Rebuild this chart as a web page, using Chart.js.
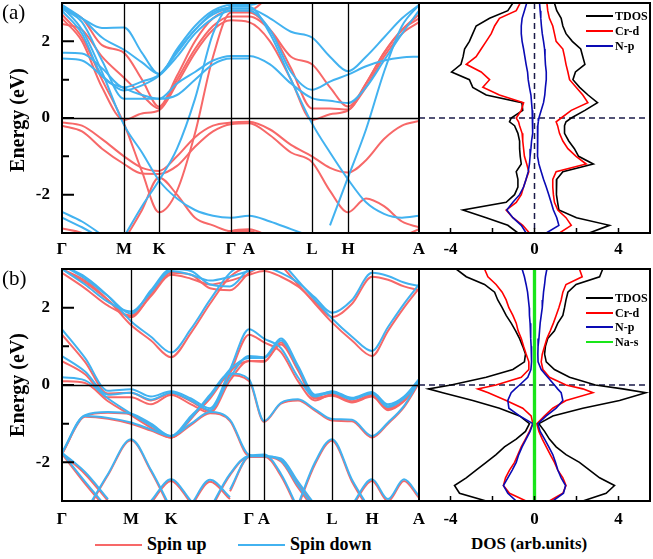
<!DOCTYPE html>
<html>
<head>
<meta charset="utf-8">
<script src="https://cdn.jsdelivr.net/npm/chart.js@4.4.1/dist/chart.umd.min.js"></script>
<style>
  body { margin: 0; background: #fff; }
  #page { position: relative; width: 653px; height: 559px; overflow: hidden; background: #fff;
          font-family: "Liberation Serif", "Times New Roman", serif; color: #000; }
  .box { position: absolute; }
  .txt { position: absolute; white-space: nowrap; }
  .b { font-weight: bold; }
  .ylab { position: absolute; font-weight: bold; font-size: 20px; transform: translate(-50%, -50%) rotate(-90deg); white-space: nowrap; }
  .leg { position: absolute; font-weight: bold; font-size: 12px; white-space: nowrap; width: 70px; }
  .leg span.l { position: absolute; left: 0; width: 27px; height: 0; border-top: 2px solid; }
  .leg span.t { position: absolute; left: 29px; transform: translateY(-50%); }
</style>
</head>
<body>
<div id="page">
  <div class="box" style="left:0;top:0;width:433px;height:260px"><canvas id="bandA"></canvas></div>
  <div class="box" style="left:418px;top:0;width:234px;height:260px"><canvas id="dosA"></canvas></div>
  <div class="box" style="left:0;top:266px;width:433px;height:262px"><canvas id="bandB"></canvas></div>
  <div class="box" style="left:418px;top:266px;width:234px;height:262px"><canvas id="dosB"></canvas></div>

  <div class="txt" style="left:2px;top:0px;font-size:21px">(a)</div>
  <div class="txt" style="left:2px;top:266px;font-size:21px">(b)</div>
  <div class="ylab" style="left:17px;top:120px">Energy (eV)</div>
  <div class="ylab" style="left:17px;top:385px">Energy (eV)</div>

  <div class="leg" id="legA" style="left:586px;top:0px"></div>
  <div class="leg" id="legB" style="left:586px;top:282px"></div>

  <div class="txt" style="left:95px;top:544px;width:47px;border-top:2px solid rgb(247,104,104)"></div>
  <div class="txt b" style="left:147px;top:534px;font-size:18px">Spin up</div>
  <div class="txt" style="left:238px;top:544px;width:47px;border-top:2px solid rgb(66,178,240)"></div>
  <div class="txt b" style="left:290px;top:534px;font-size:18px">Spin down</div>
  <div class="txt b" style="left:471px;top:534px;font-size:17px">DOS (arb.units)</div>
</div>
<script>
// ── BAND STRUCTURE DATA ─────────────────────────────────────────────────────
// k positions along the path (arbitrary units), one value per band sample
const K_A = [0,20,40,62,80,97,115,133,151,169,187,208,229,250,268,286,304,322,340,357];
const SYM_A = [0,62,97,169,187,250,286,357];
const K_B = [0,23,46,69,89,109,129,148,168,187,202,219,236,253,270,290,310,326,342,357];
const SYM_B = [0,69,109,187,202,270,310,357];
const SYM_LABELS = ['Γ','M','K','Γ','A','L','H','A'];
const E_TICKS = [-2, 0, 2];
const E_MINOR = [-1, 1];

// panel (a), spin up
const UP_A = [
  [-0.12,-0.2,-0.55,-1.0,-1.3,-1.38,-1.0,-0.5,-0.2,-0.12,-0.1,-0.3,-0.7,-1.0,-1.3,-1.42,-1.1,-0.55,-0.2,-0.08],
  [-0.2,-0.35,-0.8,-1.2,-1.45,-1.46,-1.25,-0.75,-0.35,-0.16,-0.14,-0.45,-0.9,-1.15,-1.9,-2.46,-2.1,-2.3,-2.7,-2.85],
  [2.7,2.1,1.0,-0.15,-1.4,-2.46,-1.9,-0.4,1.6,2.75,2.75,2.3,1.3,0.25,0.25,0.22,0.9,1.7,2.3,2.7],
  [2.6,2.0,0.8,-0.05,0.12,0.2,0.9,1.7,2.3,2.55,2.5,2.0,1.0,-0.05,0.1,0.2,0.8,1.6,2.2,2.5],
  [2.45,2.3,1.6,1.05,0.6,0.25,1.0,1.8,2.4,2.65,2.65,2.3,1.6,1.4,0.8,0.3,0.9,1.7,2.3,2.6],
  [2.85,2.6,1.9,1.7,1.0,0.3,1.1,2.0,2.6,2.8,2.8,3.2,null,null,null,null,null,null,null,null],
  [-2.88,-3.0,-3.3,null,null,null,null,null,-3.2,-2.95,-2.9,-3.1,-3.3,null,null,null,null,null,-3.1,-2.9],
  [null,null,null,-3.2,-2.4,-1.55,-2.0,-2.6,-2.8,-2.95,-2.95,-3.2,null,null,null,null,null,null,null,null],
];
// panel (a), spin down
const DN_A = [
  [2.9,2.3,1.2,-0.18,-0.9,-1.63,-2.1,-2.4,-2.55,-2.6,-2.55,-2.7,-2.9,-3.1,null,null,null,null,null,null],
  [null,null,null,-3.1,-2.3,-1.63,-0.8,0.5,2.2,2.9,2.9,2.2,1.0,-0.14,-0.9,-1.6,-2.2,-2.5,-2.6,-2.55],
  [-2.45,-2.7,-3.05,null,null,null,null,null,null,null,null,null,null,null,-2.8,-1.55,-0.3,1.2,2.4,2.95],
  [1.7,1.68,1.3,0.8,0.95,1.13,1.7,2.3,2.7,2.85,2.85,2.6,2.25,2.1,1.6,1.22,1.6,2.1,2.6,2.95],
  [1.55,1.5,1.1,0.72,0.85,1.1,1.6,2.2,2.6,2.8,2.8,2.3,1.2,0.74,0.95,1.13,1.35,1.5,1.58,1.6],
  [2.85,2.5,1.5,0.5,0.5,0.5,0.9,1.2,1.5,1.62,1.62,1.4,0.9,0.52,0.45,0.39,0.8,1.5,2.2,2.8],
  [2.9,2.6,2.35,2.36,1.7,1.15,1.8,2.4,2.8,2.95,2.95,3.1,null,null,null,null,null,null,null,null],
  [2.8,2.2,1.1,0.78,0.6,0.5,0.6,1.0,1.4,1.55,1.55,null,null,null,null,null,null,null,null,null],
  [2.95,2.6,2.1,1.78,1.45,1.15,1.75,2.3,2.75,2.9,null,null,null,null,null,null,null,null,null,null],
  [-2.6,-2.85,-3.15,null,null,null,null,null,null,null,null,null,null,null,null,null,null,null,null,null],
];
// panel (b), spin up
const UP_B = [
  [1.3,0.6,-0.22,-0.2,-0.4,-0.22,-0.42,-0.68,0.3,1.3,1.1,0.85,0.1,-0.4,-0.24,-0.42,-0.26,-0.6,-0.4,0.1],
  [0.62,0.28,-0.32,-0.32,-0.5,-0.26,-0.5,-0.72,0.12,0.62,0.6,1.1,0.4,-0.33,-0.26,-0.43,-0.28,-0.63,-0.4,0.06],
  [0.1,0.05,-0.42,-0.78,-1.1,-1.36,-0.85,-0.35,0.35,0.62,0.62,1.05,0.38,-0.35,-0.28,-0.45,-0.3,-0.65,-0.42,0.05],
  [-1.78,-0.82,-0.87,-1.0,-1.18,-1.36,-1.03,-0.73,-0.93,-1.84,-1.86,-1.92,-2.55,-3.15,null,null,null,null,null,null],
  [-1.78,-0.8,-0.72,-0.76,-1.03,-1.36,-0.88,-0.28,0.25,0.1,-0.95,-0.48,-0.4,-0.66,-0.92,-0.94,-1.36,-1.0,-0.57,0.05],
  [-1.78,-2.3,-3.0,null,null,null,null,null,null,null,null,null,null,null,null,null,null,null,null,null],
  [-1.78,-2.55,-3.25,null,null,null,null,null,null,null,null,null,null,null,null,null,null,null,null,null],
  [null,-3.35,-2.33,-1.43,-2.23,-3.25,null,null,null,null,null,null,null,null,null,null,null,null,null,null],
  [null,null,null,null,-3.05,-2.48,-3.05,null,null,null,null,null,null,null,null,null,null,null,null,null],
  [null,null,null,null,null,null,-3.15,-2.5,-2.95,null,null,null,null,null,null,null,null,null,null,null],
  [null,null,null,null,null,null,null,-3.25,-2.33,-1.86,-1.86,-1.98,-2.65,-3.25,null,null,null,null,null,null],
  [null,null,null,null,null,null,null,null,null,null,null,null,-3.15,-2.05,-1.44,-2.5,-3.35,null,null,null],
  [null,null,null,null,null,null,null,null,null,null,null,null,null,null,null,-3.15,-2.48,-3.0,-2.48,-2.92],
  [null,null,null,null,null,null,null,null,-2.75,-1.86,-1.84,-2.35,-3.25,null,null,null,null,null,null,null],
  [2.9,2.5,2.05,1.8,2.3,2.85,2.75,2.6,2.7,2.85,2.95,2.8,2.55,2.15,1.76,2.1,2.8,2.72,2.55,2.45],
  [3.0,2.65,2.2,1.75,2.35,2.9,2.85,2.5,2.45,2.9,3.1,null,null,null,null,null,null,null,null,null],
  [3.0,2.7,2.2,1.55,1.15,0.72,1.35,2.1,2.8,3.1,null,null,null,null,null,null,null,null,null,null],
  [null,null,null,null,null,null,null,null,null,null,null,3.1,2.6,2.1,1.62,1.15,0.75,1.4,2.0,2.5],
];
// panel (b), spin down
const DN_B = [
  [1.44,0.7,-0.15,-0.11,-0.3,-0.16,-0.35,-0.6,0.4,1.44,1.2,0.95,0.2,-0.3,-0.16,-0.33,-0.18,-0.5,-0.3,0.15],
  [0.75,0.35,-0.25,-0.2,-0.38,-0.2,-0.4,-0.65,0.2,0.75,0.72,1.2,0.5,-0.25,-0.18,-0.35,-0.2,-0.55,-0.32,0.12],
  [0.2,0.12,-0.35,-0.74,-1.05,-1.32,-0.8,-0.3,0.4,0.7,0.7,1.15,0.45,-0.28,-0.2,-0.37,-0.22,-0.57,-0.35,0.1],
  [-1.75,-0.8,-0.85,-0.97,-1.15,-1.32,-1.0,-0.7,-0.9,-1.8,-1.84,-1.9,-2.5,-3.1,null,null,null,null,null,null],
  [-1.75,-0.78,-0.7,-0.74,-1.0,-1.32,-0.85,-0.25,0.3,0.15,-0.93,-0.46,-0.37,-0.63,-0.88,-0.9,-1.32,-0.97,-0.54,0.1],
  [-1.75,-2.25,-2.95,null,null,null,null,null,null,null,null,null,null,null,null,null,null,null,null,null],
  [-1.75,-2.5,-3.2,null,null,null,null,null,null,null,null,null,null,null,null,null,null,null,null,null],
  [null,-3.3,-2.3,-1.4,-2.2,-3.2,null,null,null,null,null,null,null,null,null,null,null,null,null,null],
  [null,null,null,null,-3.0,-2.44,-3.0,null,null,null,null,null,null,null,null,null,null,null,null,null],
  [null,null,null,null,null,null,-3.1,-2.45,-2.9,null,null,null,null,null,null,null,null,null,null,null],
  [null,null,null,null,null,null,null,-3.2,-2.3,-1.84,-1.84,-1.95,-2.6,-3.2,null,null,null,null,null,null],
  [null,null,null,null,null,null,null,null,null,null,null,null,-3.1,-2.0,-1.4,-2.45,-3.3,null,null,null],
  [null,null,null,null,null,null,null,null,null,null,null,null,null,null,null,-3.1,-2.44,-2.95,-2.44,-2.87],
  [null,null,null,null,null,null,null,null,-2.7,-1.84,-1.8,-2.3,-3.2,null,null,null,null,null,null,null],
  [3.0,2.6,2.15,1.9,2.4,2.95,2.85,2.7,2.8,2.95,3.05,2.9,2.65,2.26,1.87,2.2,2.9,2.82,2.65,2.56],
  [3.1,2.75,2.3,1.85,2.45,3.0,2.95,2.6,2.55,3.0,3.2,null,null,null,null,null,null,null,null,null],
  [3.1,2.8,2.3,1.65,1.25,0.84,1.45,2.2,2.9,3.2,null,null,null,null,null,null,null,null,null,null],
  [null,null,null,null,null,null,null,null,null,null,null,3.2,2.7,2.2,1.72,1.25,0.88,1.5,2.1,2.6],
];

// ── DOS DATA ────────────────────────────────────────────────────────────────
const E_DOS = [3.0,2.8,2.6,2.4,2.2,2.0,1.8,1.6,1.4,1.2,1.0,0.8,0.6,0.4,0.2,0.0,-0.1,
               -0.2,-0.4,-0.6,-0.8,-1.0,-1.2,-1.4,-1.6,-1.8,-2.0,-2.2,-2.4,-2.6,-2.8,-3.0];
const DOS_TICKS = [-4, -2, 0, 2, 4];

const TDOS_UP_A = [0.95,1.06,1.27,1.35,1.5,1.8,2.2,2.3,2.4,1.95,1.83,2.15,2.55,3.0,2.4,1.75,1.5,1.43,1.43,1.63,1.9,2.1,2.8,1.35,1.06,1.03,1.06,1.1,1.16,2.0,3.57,2.6];
const TDOS_DN_A = [-1.03,-1.27,-2.14,-2.78,-2.94,-3.1,-3.33,-3.4,-3.5,-3.95,-3.1,-2.94,-2.3,-0.6,-0.56,-1.11,-1.19,-0.95,-0.79,-0.71,-0.71,-0.68,-0.63,-0.87,-0.79,-0.79,-0.95,-1.35,-3.41,-2.3,-1.27,-0.79];
const CRD_UP_A = [0.59,0.63,0.71,0.87,0.95,1.03,1.35,1.43,1.5,1.59,1.67,1.98,2.3,2.54,1.75,1.27,1.03,1.1,1.19,1.35,1.59,1.98,2.46,1.03,0.87,0.87,0.9,0.95,1.11,1.5,1.75,1.19];
const CRD_DN_A = [-0.68,-0.87,-1.67,-1.9,-2.06,-2.3,-2.54,-2.78,-3.25,-2.54,-2.14,-2.46,-1.67,-0.52,-0.63,-0.87,-0.76,-0.71,-0.59,-0.56,-0.52,-0.48,-0.37,-0.27,-0.4,-0.52,-0.63,-0.87,-1.35,-1.03,-0.56,-0.24];
const NP_UP_A = [0.24,0.27,0.3,0.33,0.37,0.43,0.48,0.5,0.52,0.56,0.56,0.52,0.49,0.43,0.32,0.21,0.18,0.16,0.14,0.14,0.14,0.16,0.21,0.32,0.43,0.56,0.68,0.79,0.9,1.06,1.16,0.56];
const NP_DN_A = [-0.37,-0.48,-0.59,-0.63,-0.63,-0.59,-0.52,-0.46,-0.4,-0.33,-0.3,-0.24,-0.17,-0.14,-0.11,-0.08,-0.08,-0.08,-0.11,-0.14,-0.17,-0.21,-0.24,-0.3,-0.4,-0.52,-0.71,-1.03,-1.32,-1.03,-0.63,-0.4];

const TDOS_UP_B = [3.25,3.1,1.98,1.59,1.5,1.43,1.35,1.11,0.95,0.63,0.52,0.48,0.56,0.95,1.67,2.9,4.2,5.3,4.05,2.3,0.87,0.21,0.48,0.71,1.03,1.5,2.14,2.62,3.1,3.81,3.41,2.3];
const TDOS_DN_B = [-3.73,-3.25,-2.38,-1.9,-1.75,-1.54,-1.35,-1.11,-0.9,-0.71,-0.56,-0.43,-0.48,-1.03,-2.3,-3.97,-5.05,-4.37,-2.94,-1.67,-0.71,-0.24,-0.43,-0.87,-1.43,-1.83,-2.3,-2.78,-3.25,-3.81,-3.57,-2.3];
const CRD_UP_B = [2.14,2.27,1.5,1.35,1.27,1.16,1.03,0.9,0.75,0.59,0.48,0.37,0.32,0.4,0.71,1.5,2.3,2.78,1.5,0.87,0.48,0.11,0.21,0.37,0.56,0.75,0.95,1.11,1.35,1.5,1.35,0.71];
const CRD_DN_B = [-2.38,-2.22,-1.83,-1.54,-1.35,-1.22,-1.03,-0.87,-0.78,-0.63,-0.52,-0.4,-0.27,-0.27,-0.63,-1.83,-2.7,-2.2,-1.35,-0.56,-0.16,-0.08,-0.24,-0.43,-0.63,-0.79,-0.95,-1.19,-1.38,-1.48,-1.19,-0.4];
const NP_UP_B = [0.59,0.52,0.48,0.43,0.4,0.37,0.32,0.27,0.24,0.21,0.17,0.16,0.17,0.32,0.63,0.95,1.1,1.27,1.35,1.03,0.56,0.16,0.27,0.48,0.68,0.87,1.0,1.11,1.27,1.48,1.38,0.87];
const NP_DN_B = [-0.59,-0.48,-0.4,-0.33,-0.29,-0.25,-0.24,-0.21,-0.19,-0.17,-0.16,-0.14,-0.14,-0.17,-0.32,-0.71,-0.92,-1.11,-1.27,-1.22,-0.71,-0.08,-0.21,-0.4,-0.59,-0.75,-0.87,-1.06,-1.27,-1.48,-1.27,-0.87];
const NAS_UP_B = [0.03,0.03,0.03,0.03,0.03,0.03,0.03,0.03,0.03,0.03,0.03,0.03,0.03,0.03,0.03,0.04,0.04,0.04,0.03,0.03,0.03,0.03,0.03,0.03,0.03,0.03,0.03,0.03,0.04,0.04,0.03,0.03];
const NAS_DN_B = [-0.03,-0.03,-0.03,-0.03,-0.03,-0.03,-0.03,-0.03,-0.03,-0.03,-0.03,-0.03,-0.03,-0.03,-0.03,-0.04,-0.04,-0.04,-0.03,-0.03,-0.03,-0.03,-0.03,-0.03,-0.03,-0.03,-0.03,-0.03,-0.04,-0.04,-0.03,-0.03];

// ── STYLE ───────────────────────────────────────────────────────────────────
const FONT = '"Liberation Serif", "Times New Roman", serif';
const RED  = 'rgb(247,104,104)';
const BLUE = 'rgb(66,178,240)';
const tickFont = { family: FONT, size: 17, weight: 'bold' };

// keep the plot box exactly where the layout puts it (no label overhang padding)
function noOverhang(s) {
  s.paddingTop = 0; s.paddingBottom = 0; s.paddingLeft = 0; s.paddingRight = 0;
}

// frame, high-symmetry lines, E=0 line and inward ticks for the band panels
const bandFrame = symK => ({
  id: 'bandFrame',
  afterDatasetsDraw(chart) {
    const { ctx, chartArea: a, scales: { x, y } } = chart;
    ctx.save();
    ctx.strokeStyle = '#000';
    ctx.lineWidth = 1.3;
    ctx.beginPath();
    symK.slice(1, -1).forEach(k => {
      const px = Math.round(x.getPixelForValue(k)) + 0.5;
      ctx.moveTo(px, a.top); ctx.lineTo(px, a.bottom);
    });
    const y0 = Math.round(y.getPixelForValue(0)) + 0.5;
    ctx.moveTo(a.left, y0); ctx.lineTo(a.right, y0);
    ctx.stroke();
    ctx.lineWidth = 2;
    ctx.beginPath();
    E_TICKS.forEach(v => { const py = y.getPixelForValue(v); ctx.moveTo(a.left, py); ctx.lineTo(a.left + 12, py); });
    E_MINOR.forEach(v => { const py = y.getPixelForValue(v); ctx.moveTo(a.left, py); ctx.lineTo(a.left + 7, py); });
    ctx.stroke();
    ctx.strokeRect(a.left, a.top, a.right - a.left, a.bottom - a.top);
    ctx.restore();
  }
});

function bandChart(id, kGrid, symK, upBands, dnBands, labelPad) {
  const datasets = [];
  const toPts = b => kGrid.map((k, i) => ({ x: k, y: b[i] }));
  dnBands.forEach(b => datasets.push({ data: toPts(b), borderColor: BLUE }));
  upBands.forEach(b => datasets.push({ data: toPts(b), borderColor: RED }));
  return new Chart(document.getElementById(id), {
    type: 'line',
    data: { datasets },
    options: {
      responsive: true, maintainAspectRatio: false, animation: false,
      layout: { padding: { top: 3, right: 14, left: 0, bottom: 0 } },
      plugins: { legend: { display: false }, tooltip: { enabled: false } },
      elements: {
        point: { radius: 0 },
        line: { borderWidth: 2, cubicInterpolationMode: 'monotone', fill: false },
      },
      scales: {
        x: {
          type: 'linear', min: 0, max: 357,
          grid: { display: false, drawTicks: false }, border: { display: false },
          afterBuildTicks: s => { s.ticks = symK.map(v => ({ value: v })); },
          afterFit: s => { s.height = 27; noOverhang(s); },
          ticks: { autoSkip: false, maxRotation: 0, padding: labelPad, color: '#000', font: tickFont,
                   callback: (v, i) => SYM_LABELS[i] },
        },
        y: {
          min: -3, max: 3,
          grid: { display: false, drawTicks: false }, border: { display: false },
          afterBuildTicks: s => { s.ticks = E_TICKS.map(v => ({ value: v })); },
          afterFit: s => { s.width = 62; noOverhang(s); },
          ticks: { padding: 12, color: '#000', font: tickFont, callback: v => String(v) },
        },
      },
    },
    plugins: [bandFrame(symK)],
  });
}

const dosFrame = {
  id: 'dosFrame',
  beforeDatasetsDraw(chart) {
    const { ctx, chartArea: a, scales: { x, y } } = chart;
    ctx.save();
    ctx.strokeStyle = '#1a1a48';
    ctx.lineWidth = 1.5;
    ctx.setLineDash([6, 4]);
    ctx.beginPath();
    const y0 = y.getPixelForValue(0);
    ctx.moveTo(a.left, y0); ctx.lineTo(a.right, y0);
    const x0 = x.getPixelForValue(0);
    ctx.moveTo(x0, a.top); ctx.lineTo(x0, a.bottom);
    ctx.stroke();
    ctx.restore();
  },
  afterDatasetsDraw(chart) {
    const { ctx, chartArea: a, scales: { x } } = chart;
    ctx.save();
    ctx.strokeStyle = '#000';
    ctx.lineWidth = 1.5;
    ctx.beginPath();
    DOS_TICKS.forEach(v => { const px = x.getPixelForValue(v); ctx.moveTo(px, a.bottom); ctx.lineTo(px, a.bottom - 5); });
    ctx.stroke();
    ctx.lineWidth = 2;
    ctx.strokeRect(a.left, a.top, a.right - a.left, a.bottom - a.top);
    ctx.restore();
  }
};

function dosChart(id, curves, labelPad) {
  const datasets = [];
  curves.forEach(c => {
    [c.up, c.dn].forEach(arr => datasets.push({
      data: E_DOS.map((e, i) => ({ x: arr[i], y: e })),
      borderColor: c.color, showLine: true, borderWidth: c.width || 1.6,
      pointRadius: 0, tension: 0,
    }));
  });
  return new Chart(document.getElementById(id), {
    type: 'scatter',
    data: { datasets },
    options: {
      responsive: true, maintainAspectRatio: false, animation: false,
      layout: { padding: { top: 3, right: 2, left: 1, bottom: 0 } },
      plugins: { legend: { display: false }, tooltip: { enabled: false } },
      scales: {
        x: {
          type: 'linear', min: -5.5, max: 5.5,
          grid: { display: false, drawTicks: false }, border: { display: false },
          afterBuildTicks: s => { s.ticks = DOS_TICKS.map(v => ({ value: v })); },
          afterFit: s => { s.height = 27; noOverhang(s); },
          ticks: { autoSkip: false, maxRotation: 0, padding: labelPad, color: '#000', font: tickFont,
                   callback: v => (v % 4 === 0 ? String(v) : '') },
        },
        y: { min: -3, max: 3, display: false },
      },
    },
    plugins: [dosFrame],
  });
}

bandChart('bandA', K_A, SYM_A, UP_A, DN_A, 6);
bandChart('bandB', K_B, SYM_B, UP_B, DN_B, 8);

dosChart('dosA', [
  { up: NP_UP_A,   dn: NP_DN_A,   color: '#0a0ab4' },
  { up: CRD_UP_A,  dn: CRD_DN_A,  color: '#ff0000' },
  { up: TDOS_UP_A, dn: TDOS_DN_A, color: '#000000' },
], 6);
dosChart('dosB', [
  { up: NAS_UP_B,  dn: NAS_DN_B,  color: '#19e619', width: 2 },
  { up: NP_UP_B,   dn: NP_DN_B,   color: '#0a0ab4' },
  { up: CRD_UP_B,  dn: CRD_DN_B,  color: '#ff0000' },
  { up: TDOS_UP_B, dn: TDOS_DN_B, color: '#000000' },
], 8);

// ── DOS LEGENDS ─────────────────────────────────────────────────────────────
function legend(elId, items, gap) {
  const el = document.getElementById(elId);
  items.forEach(([name, color], i) => {
    const y = 15 + i * gap;
    el.insertAdjacentHTML('beforeend',
      `<span class="l" style="top:${y}px;border-color:${color}"></span>` +
      `<span class="t" style="top:${y + 1}px">${name}</span>`);
  });
}
legend('legA', [['TDOS', '#000'], ['Cr-d', '#ff0000'], ['N-p', '#0a0ab4']], 15);
legend('legB', [['TDOS', '#000'], ['Cr-d', '#ff0000'], ['N-p', '#0a0ab4'], ['Na-s', '#19e619']], 14.5);
</script>
</body>
</html>
